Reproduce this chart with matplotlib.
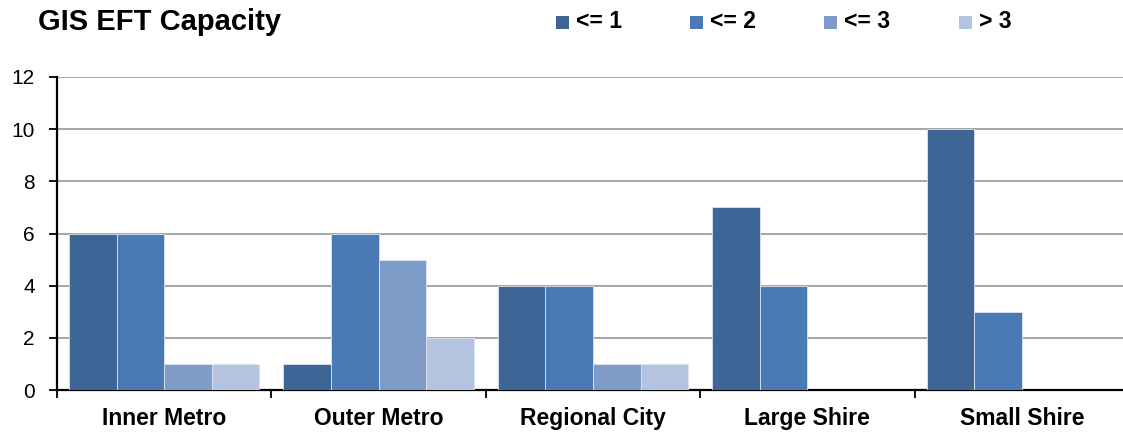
import matplotlib
matplotlib.use("Agg")
import matplotlib.pyplot as plt
from matplotlib.patches import Rectangle
import numpy as np

plt.rcParams['font.family'] = ['Liberation Sans', 'DejaVu Sans']

categories = ["Inner Metro", "Outer Metro", "Regional City", "Large Shire", "Small Shire"]
series_names = ["<= 1", "<= 2", "<= 3", "> 3"]
le1 = [6, 1, 4, 7, 10]
le2 = [6, 6, 4, 4, 3]
le3 = [1, 5, 1, 0, 0]
gt3 = [1, 2, 1, 0, 0]
series_values = [le1, le2, le3, gt3]
colors = ["#3D6696", "#4A7AB5", "#7F9CC8", "#B4C3DF"]
y_ticks = [0, 2, 4, 6, 8, 10, 12]

W, H = 1123, 432
fig = plt.figure(figsize=(W / 100, H / 100), dpi=100)
left, right, top, bottom = 57, 1129, 77, 390
ax = fig.add_axes([left / W, 1 - bottom / H, (right - left) / W, (bottom - top) / H])

n = len(categories)
bw = 1 / 4.5
x = np.arange(n)
for i, (name, vals, c) in enumerate(zip(series_names, series_values, colors)):
    offs = (i - 1.5) * bw
    ax.bar(x + offs, vals, width=bw, color=c, edgecolor="#dce4ef",
           linewidth=0.6, label=name, zorder=3)

ax.set_xlim(-0.5, n - 0.5)
ax.set_ylim(0, 12)
ax.set_yticks(y_ticks)
ax.set_yticklabels([str(v) for v in y_ticks], fontsize=15)
ax.yaxis.grid(True, color="#a6a6a6", linewidth=1.4, zorder=0)
ax.set_axisbelow(True)

ax.set_xticks(x)
ax.set_xticklabels(categories, fontsize=16.5, fontweight="bold")
ax.tick_params(axis="x", length=0, pad=12)
ax.set_xticks(np.arange(n + 1) - 0.5, minor=True)
ax.tick_params(axis="x", which="minor", length=6, width=1.3, direction="out", color="black")
ax.tick_params(axis="y", length=6, width=1.3, direction="out", pad=10)

for s in ["top", "right"]:
    ax.spines[s].set_visible(False)
for s in ["left", "bottom"]:
    ax.spines[s].set_linewidth(1.6)

fig.text(38 / W, 1 - 22 / H, "GIS EFT Capacity", fontsize=21, fontweight="bold",
         va="center", ha="left")

# series key across the top
key_x = [556, 690, 824, 959]
sq = 13
for kx, name, c in zip(key_x, series_names, colors):
    fig.patches.append(Rectangle((kx / W, 1 - (22 + sq / 2) / H), sq / W, sq / H,
                                 transform=fig.transFigure, facecolor=c,
                                 edgecolor="none"))
    fig.text((kx + sq + 7) / W, 1 - 22 / H, name, fontsize=16.5, fontweight="bold",
             va="center", ha="left")

fig.savefig("out.png", dpi=100)
